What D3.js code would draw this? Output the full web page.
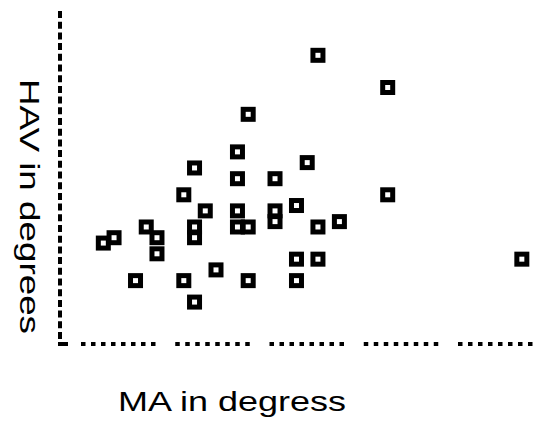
<!DOCTYPE html>
<html>
<head>
<meta charset="utf-8">
<title>HAV vs MA</title>
<script src="https://cdn.jsdelivr.net/npm/d3@7/dist/d3.min.js"></script>
<style>
  body { margin: 0; background: #fff; }
  text { font-family: Arial, "Liberation Sans", Helvetica, sans-serif; fill: #000; }
</style>
</head>
<body>
<script>
// MA (x) and HAV (y) for each case, in degrees
var maValues  = [24, 30.5, 17.5, 16.5, 12.5, 23, 16.5, 20, 11.5, 30.5,
                 13.5, 16.5, 20, 22, 12.5, 16.5, 17.5, 20, 24, 26,
                 8, 9, 9, 12.5, 5, 4, 7, 11.5, 14.5, 17.5,
                 22, 24, 22, 12.5, 43];
var havValues = [27, 24, 21.5, 18, 16.5, 17, 15.5, 15.5, 14, 14,
                 12.5, 12.5, 12.5, 13, 11, 11, 11, 11.5, 11, 11.5,
                 11, 10, 8.5, 10, 10, 9.5, 6, 6, 7, 6,
                 8, 8, 6, 4, 8];
var xDomain = [0, 45];
var yDomain = [0, 31];
var xTitle = "MA in degress";
var yTitle = "HAV in degrees";

var width = 549, height = 422;
var svg = d3.select("body").append("svg")
    .attr("width", width).attr("height", height);

var x = d3.scaleLinear().domain(xDomain).range([60.4, 543.3]);
var y = d3.scaleLinear().domain(yDomain).range([345, 12.4]);

var points = maValues.map(function(d, i){ return {ma: d, hav: havValues[i]}; });

// dotted axes
svg.append("line")
    .attr("x1", 60).attr("x2", 60)
    .attr("y1", 11).attr("y2", 342)
    .attr("stroke", "black").attr("stroke-width", 4)
    .attr("stroke-dasharray", "7,3.7");

svg.append("rect")
    .attr("x", 58).attr("y", 342).attr("width", 10).attr("height", 4)
    .attr("fill", "black");

var xPattern = [];
for (var k = 0; k < 7; k++) xPattern.push(4.5, 5.5);
xPattern.push(4.5, 19.75);
svg.append("line")
    .attr("x1", 81).attr("x2", 545)
    .attr("y1", 344).attr("y2", 344)
    .attr("stroke", "black").attr("stroke-width", 4)
    .attr("stroke-dasharray", xPattern.join(","));

// markers
svg.selectAll("rect.pt")
    .data(points)
    .enter().append("rect")
    .attr("class", "pt")
    .attr("x", function(d){ return x(d.ma) - 5; })
    .attr("y", function(d){ return y(d.hav) - 5; })
    .attr("width", 10)
    .attr("height", 10)
    .attr("fill", "white")
    .attr("stroke", "black")
    .attr("stroke-width", 5);

// titles (stretched like the original)
svg.append("text")
    .attr("x", 118).attr("y", 411)
    .attr("textLength", 228)
    .attr("lengthAdjust", "spacingAndGlyphs")
    .style("font-size", "28px")
    .text(xTitle);

svg.append("text")
    .attr("transform", "translate(20,79) rotate(90)")
    .attr("textLength", 255)
    .attr("lengthAdjust", "spacingAndGlyphs")
    .style("font-size", "28px")
    .text(yTitle);
</script>
</body>
</html>
